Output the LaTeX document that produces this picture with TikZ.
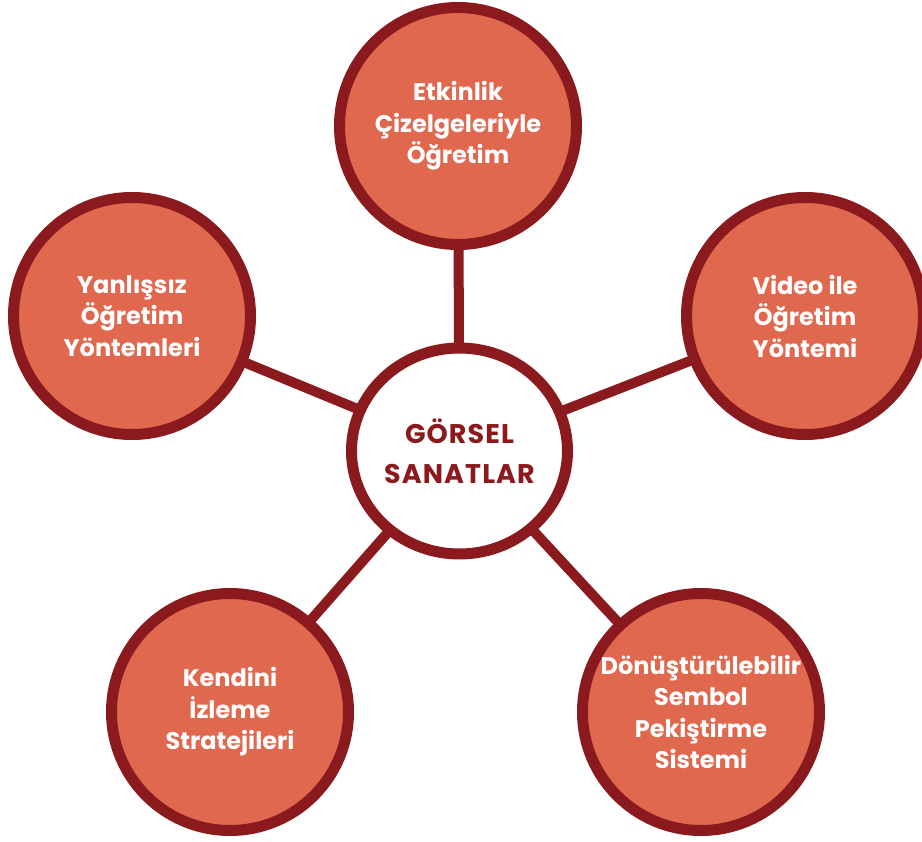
\documentclass[tikz,border=0pt]{standalone}
\usepackage{fontspec}
\usetikzlibrary{shapes.geometric}
\setmainfont{Poppins}
\newfontfamily\hubfont[LetterSpace=4]{Poppins}
\definecolor{ring}{HTML}{8B1A1F}
\definecolor{petal}{HTML}{DF684E}
\begin{document}
\begin{tikzpicture}[x=1pt,y=-1pt,
  outer/.style={circle,draw=ring,line width=11pt,fill=petal,minimum size=237pt,inner sep=0pt,
    text=white,font=\fontsize{24}{31.5}\selectfont\bfseries,align=center},
  hub/.style={ellipse,draw=ring,line width=11pt,fill=white,minimum width=216pt,minimum height=206pt,inner sep=0pt,
    text=ring,font=\hubfont\fontsize{27}{40}\selectfont\bfseries,align=center},
  link/.style={draw=ring,line width=10pt}]
\useasboundingbox (0,0) rectangle (922,842);
\coordinate (cc) at (459.5,451);
\coordinate (tc) at (458,126);
\coordinate (lc) at (132,316);
\coordinate (rc) at (805,316);
\coordinate (blc) at (230,712);
\coordinate (brc) at (701,712);
\draw[link] (cc) -- (tc);
\draw[link] (cc) -- (lc);
\draw[link] (cc) -- (rc);
\draw[link] (cc) -- (blc);
\draw[link] (cc) -- (brc);
\node[hub] (c) at (cc) {GÖRSEL\\SANATLAR};
\node[outer] (t) at (tc) {Etkinlik\\Çizelgeleriyle\\Öğretim};
\node[outer] (l) at (lc) {Yanlışsız\\Öğretim\\Yöntemleri};
\node[outer] (r) at (rc) {Video ile\\Öğretim\\Yöntemi};
\node[outer] (bl) at (blc) {Kendini\\İzleme\\Stratejileri};
\node[outer] (br) at (brc) {Dönüştürülebilir\\Sembol\\Pekiştirme\\Sistemi};
\end{tikzpicture}
\end{document}
